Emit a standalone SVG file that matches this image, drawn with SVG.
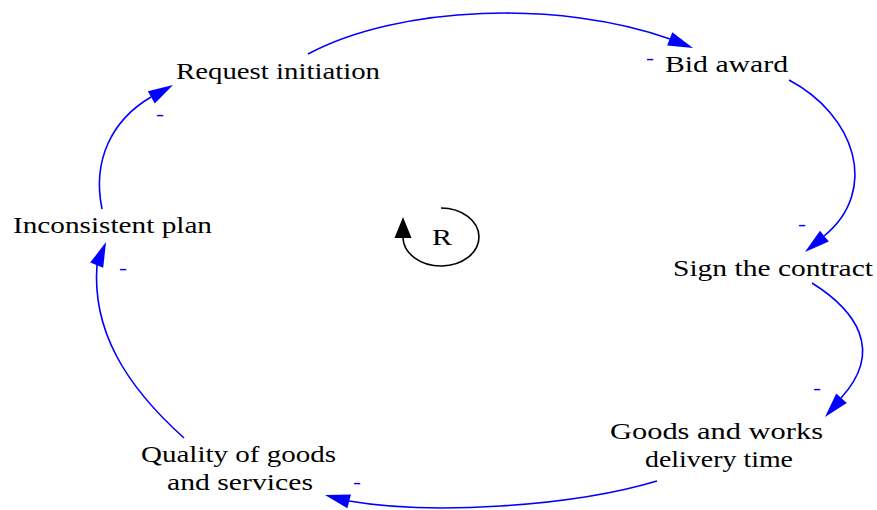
<svg xmlns="http://www.w3.org/2000/svg" width="877" height="510" viewBox="0 0 877 510">
  <style>
    .lbl { font-family: "Liberation Serif", "Times New Roman", serif; font-size: 23px; fill: #000; }
    .pol { font-family: "Liberation Serif", "Times New Roman", serif; font-size: 18px; fill: #0000ff; text-anchor: middle; }
    .link { fill: none; stroke: #0000ff; stroke-width: 1.6; }
    .head { fill: #0000ff; }
  </style>
  <defs>
    <!-- arrowhead pointing along +x, tip at origin -->
    <path id="ah" d="M0,0 L-25,-7 L-25,7 Z"/>
    <path id="ahLoop" d="M0,0 L-21,-8.5 L-21,8.5 Z"/>
  </defs>
  <rect width="877" height="510" fill="#fff"/>

  <g id="connectors">
    <path class="link" d="M308,54 C400,5 560,0 670,39"/>
    <use href="#ah" class="head" transform="translate(693,48) rotate(21.4)"/>
    <text class="pol" x="650" y="64" textLength="8" lengthAdjust="spacingAndGlyphs">-</text>

    <path class="link" d="M789,80 C855,115 880,190 824,236"/>
    <use href="#ah" class="head" transform="translate(805,252) rotate(140.8)"/>
    <text class="pol" x="802" y="230" textLength="8" lengthAdjust="spacingAndGlyphs">-</text>

    <path class="link" d="M812,283 C855,310 885,350 841,398"/>
    <use href="#ah" class="head" transform="translate(825,417) rotate(131.4)"/>
    <text class="pol" x="817" y="394" textLength="8" lengthAdjust="spacingAndGlyphs">-</text>

    <path class="link" d="M657,481 C570,507 430,515 349,501"/>
    <use href="#ah" class="head" transform="translate(325,495) rotate(194.8)"/>
    <text class="pol" x="357" y="488" textLength="8" lengthAdjust="spacingAndGlyphs">-</text>

    <path class="link" d="M184,438 C125,385 92,330 97,265"/>
    <use href="#ah" class="head" transform="translate(106,242) rotate(-68.2)"/>
    <text class="pol" x="123" y="274" textLength="8" lengthAdjust="spacingAndGlyphs">-</text>

    <path class="link" d="M102,209 C92,160 112,120 151,97"/>
    <use href="#ah" class="head" transform="translate(173,85) rotate(-29.7)"/>
    <text class="pol" x="160" y="120" textLength="8" lengthAdjust="spacingAndGlyphs">-</text>
  </g>

  <g id="loop-R">
    <path d="M441,208 A38,29 0 1 1 403,238" fill="none" stroke="#000" stroke-width="1.6"/>
    <use href="#ahLoop" fill="#000" transform="translate(403,217) rotate(-90)"/>
    <text class="lbl" x="432" y="245" textLength="20" lengthAdjust="spacingAndGlyphs">R</text>
  </g>

  <g id="request-initiation">
    <text class="lbl" x="176" y="79" textLength="204" lengthAdjust="spacingAndGlyphs">Request initiation</text>
  </g>
  <g id="bid-award">
    <text class="lbl" x="665" y="72" textLength="123" lengthAdjust="spacingAndGlyphs">Bid award</text>
  </g>
  <g id="sign-contract">
    <text class="lbl" x="673" y="276" textLength="200" lengthAdjust="spacingAndGlyphs">Sign the contract</text>
  </g>
  <g id="delivery-time">
    <text class="lbl" x="610" y="439" textLength="213" lengthAdjust="spacingAndGlyphs">Goods and works</text>
    <text class="lbl" x="645" y="467" textLength="148" lengthAdjust="spacingAndGlyphs">delivery time</text>
  </g>
  <g id="quality">
    <text class="lbl" x="141" y="462" textLength="195" lengthAdjust="spacingAndGlyphs">Quality of goods</text>
    <text class="lbl" x="167" y="490" textLength="146" lengthAdjust="spacingAndGlyphs">and services</text>
  </g>
  <g id="inconsistent-plan">
    <text class="lbl" x="13" y="233" textLength="199" lengthAdjust="spacingAndGlyphs">Inconsistent plan</text>
  </g>
</svg>
